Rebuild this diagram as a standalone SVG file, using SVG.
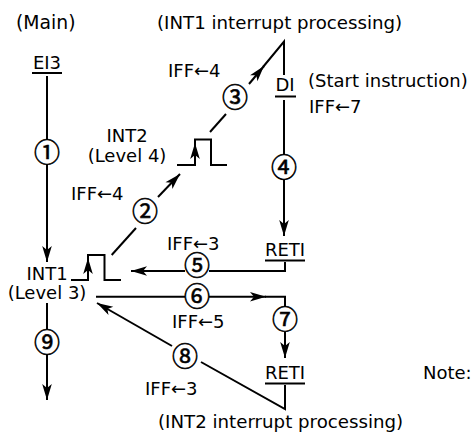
<svg xmlns="http://www.w3.org/2000/svg" width="474" height="440" viewBox="0 0 474 440">
<style>
.t{font-family:"DejaVu Sans",sans-serif;font-size:18px;fill:#000}
.m{text-anchor:middle}
.c{font-family:"Noto Sans CJK JP","DejaVu Sans",sans-serif;font-size:26px;text-anchor:middle;fill:#000;stroke:#000;stroke-width:0.6}
.ln{fill:none;stroke:#000;stroke-width:2}
.ul{stroke:#000;stroke-width:2}
</style>
<defs>
<marker id="ah" markerUnits="userSpaceOnUse" viewBox="-17 -6 18 12" refX="0" refY="0" markerWidth="18" markerHeight="12" orient="auto">
<path d="M0,0 L-16,-4.8 L-12,0 L-16,4.8 Z" fill="#000"/>
</marker>
</defs>
<rect width="474" height="440" fill="#fff"/>
<g id="titles">
<text class="t" x="16" y="29" style="font-size:18.8px">(Main)</text>
<text class="t" x="157" y="29" style="font-size:18.2px">(INT1 interrupt processing)</text>
<text class="t" x="158" y="428" style="font-size:18.2px">(INT2 interrupt processing)</text>
<text class="t" x="423" y="379">Note:</text>
</g>
<g id="ei3"><text class="t m" x="47" y="69">EI3</text><line class="ul" x1="32" y1="73" x2="62" y2="73"/></g>
<g id="int2"><text class="t m" x="127" y="142">INT2</text><text class="t m" x="127" y="162">(Level 4)</text>
<path class="ln" d="M177,165 H195 V139.5 H211 V165 H227"/></g>
<g id="int1"><text class="t m" x="47" y="280">INT1</text><text class="t m" x="47" y="298.5">(Level 3)</text>
<path class="ln" d="M71,280 H88 V255 H104.5 V280 H121"/></g>
<g id="di"><text class="t m" x="285" y="91">DI</text><line class="ul" x1="275" y1="96.5" x2="296" y2="96.5"/>
<text class="t" x="308" y="87">(Start instruction)</text><text class="t" x="309" y="113">IFF←7</text></g>
<g id="reti1"><text class="t m" x="285" y="256">RETI</text><line class="ul" x1="265" y1="260.5" x2="305" y2="260.5"/></g>
<g id="reti2"><text class="t m" x="285" y="379">RETI</text><line class="ul" x1="265" y1="383.5" x2="305" y2="383.5"/></g>
<g id="labels">
<text class="t" x="168" y="77">IFF←4</text>
<text class="t" x="71" y="200">IFF←4</text>
<text class="t" x="167" y="250">IFF←3</text>
<text class="t" x="172" y="328">IFF←5</text>
<text class="t" x="145" y="395">IFF←3</text>
</g>
<g id="steps">
<text class="c" x="47" y="161.5">①</text>
<text class="c" x="145" y="220.5">②</text>
<text class="c" x="235" y="106.5">③</text>
<text class="c" x="284" y="176.5">④</text>
<text class="c" x="197" y="275">⑤</text>
<text class="c" x="197" y="305.5">⑥</text>
<text class="c" x="285" y="328.5">⑦</text>
<text class="c" x="185" y="366">⑧</text>
<text class="c" x="47" y="351.5">⑨</text>
</g>
<g id="connectors">
<path class="ln" d="M47,76 V140"/>
<path class="ln" d="M47,164 V262" marker-end="url(#ah)"/>
<path class="ln" d="M88,276 V258" marker-end="url(#ah)"/>
<path class="ln" d="M195,161 V143" marker-end="url(#ah)"/>
<path class="ln" d="M111.7,255 L136,228"/>
<path class="ln" d="M158,197 L180,174" marker-end="url(#ah)"/>
<path class="ln" d="M210,132 L226,114"/>
<path class="ln" d="M249,84 L264,66" marker-end="url(#ah)"/>
<path class="ln" d="M263,67 L284,41.5 V75"/>
<path class="ln" d="M284,100 V155"/>
<path class="ln" d="M284,179 V236" marker-end="url(#ah)"/>
<path class="ln" d="M285,262 V271 H209"/>
<path class="ln" d="M185,271 H131" marker-end="url(#ah)"/>
<path class="ln" d="M96,296.7 H185"/>
<path class="ln" d="M209,296.7 H266" marker-end="url(#ah)"/>
<path class="ln" d="M265,296.7 H285 V307"/>
<path class="ln" d="M285,332 V358" marker-end="url(#ah)"/>
<path class="ln" d="M285,385 V409 L201,362"/>
<path class="ln" d="M172,346 L97,303" marker-end="url(#ah)"/>
<path class="ln" d="M47,303 V329"/>
<path class="ln" d="M47,354 V400" marker-end="url(#ah)"/>
</g>
</svg>
